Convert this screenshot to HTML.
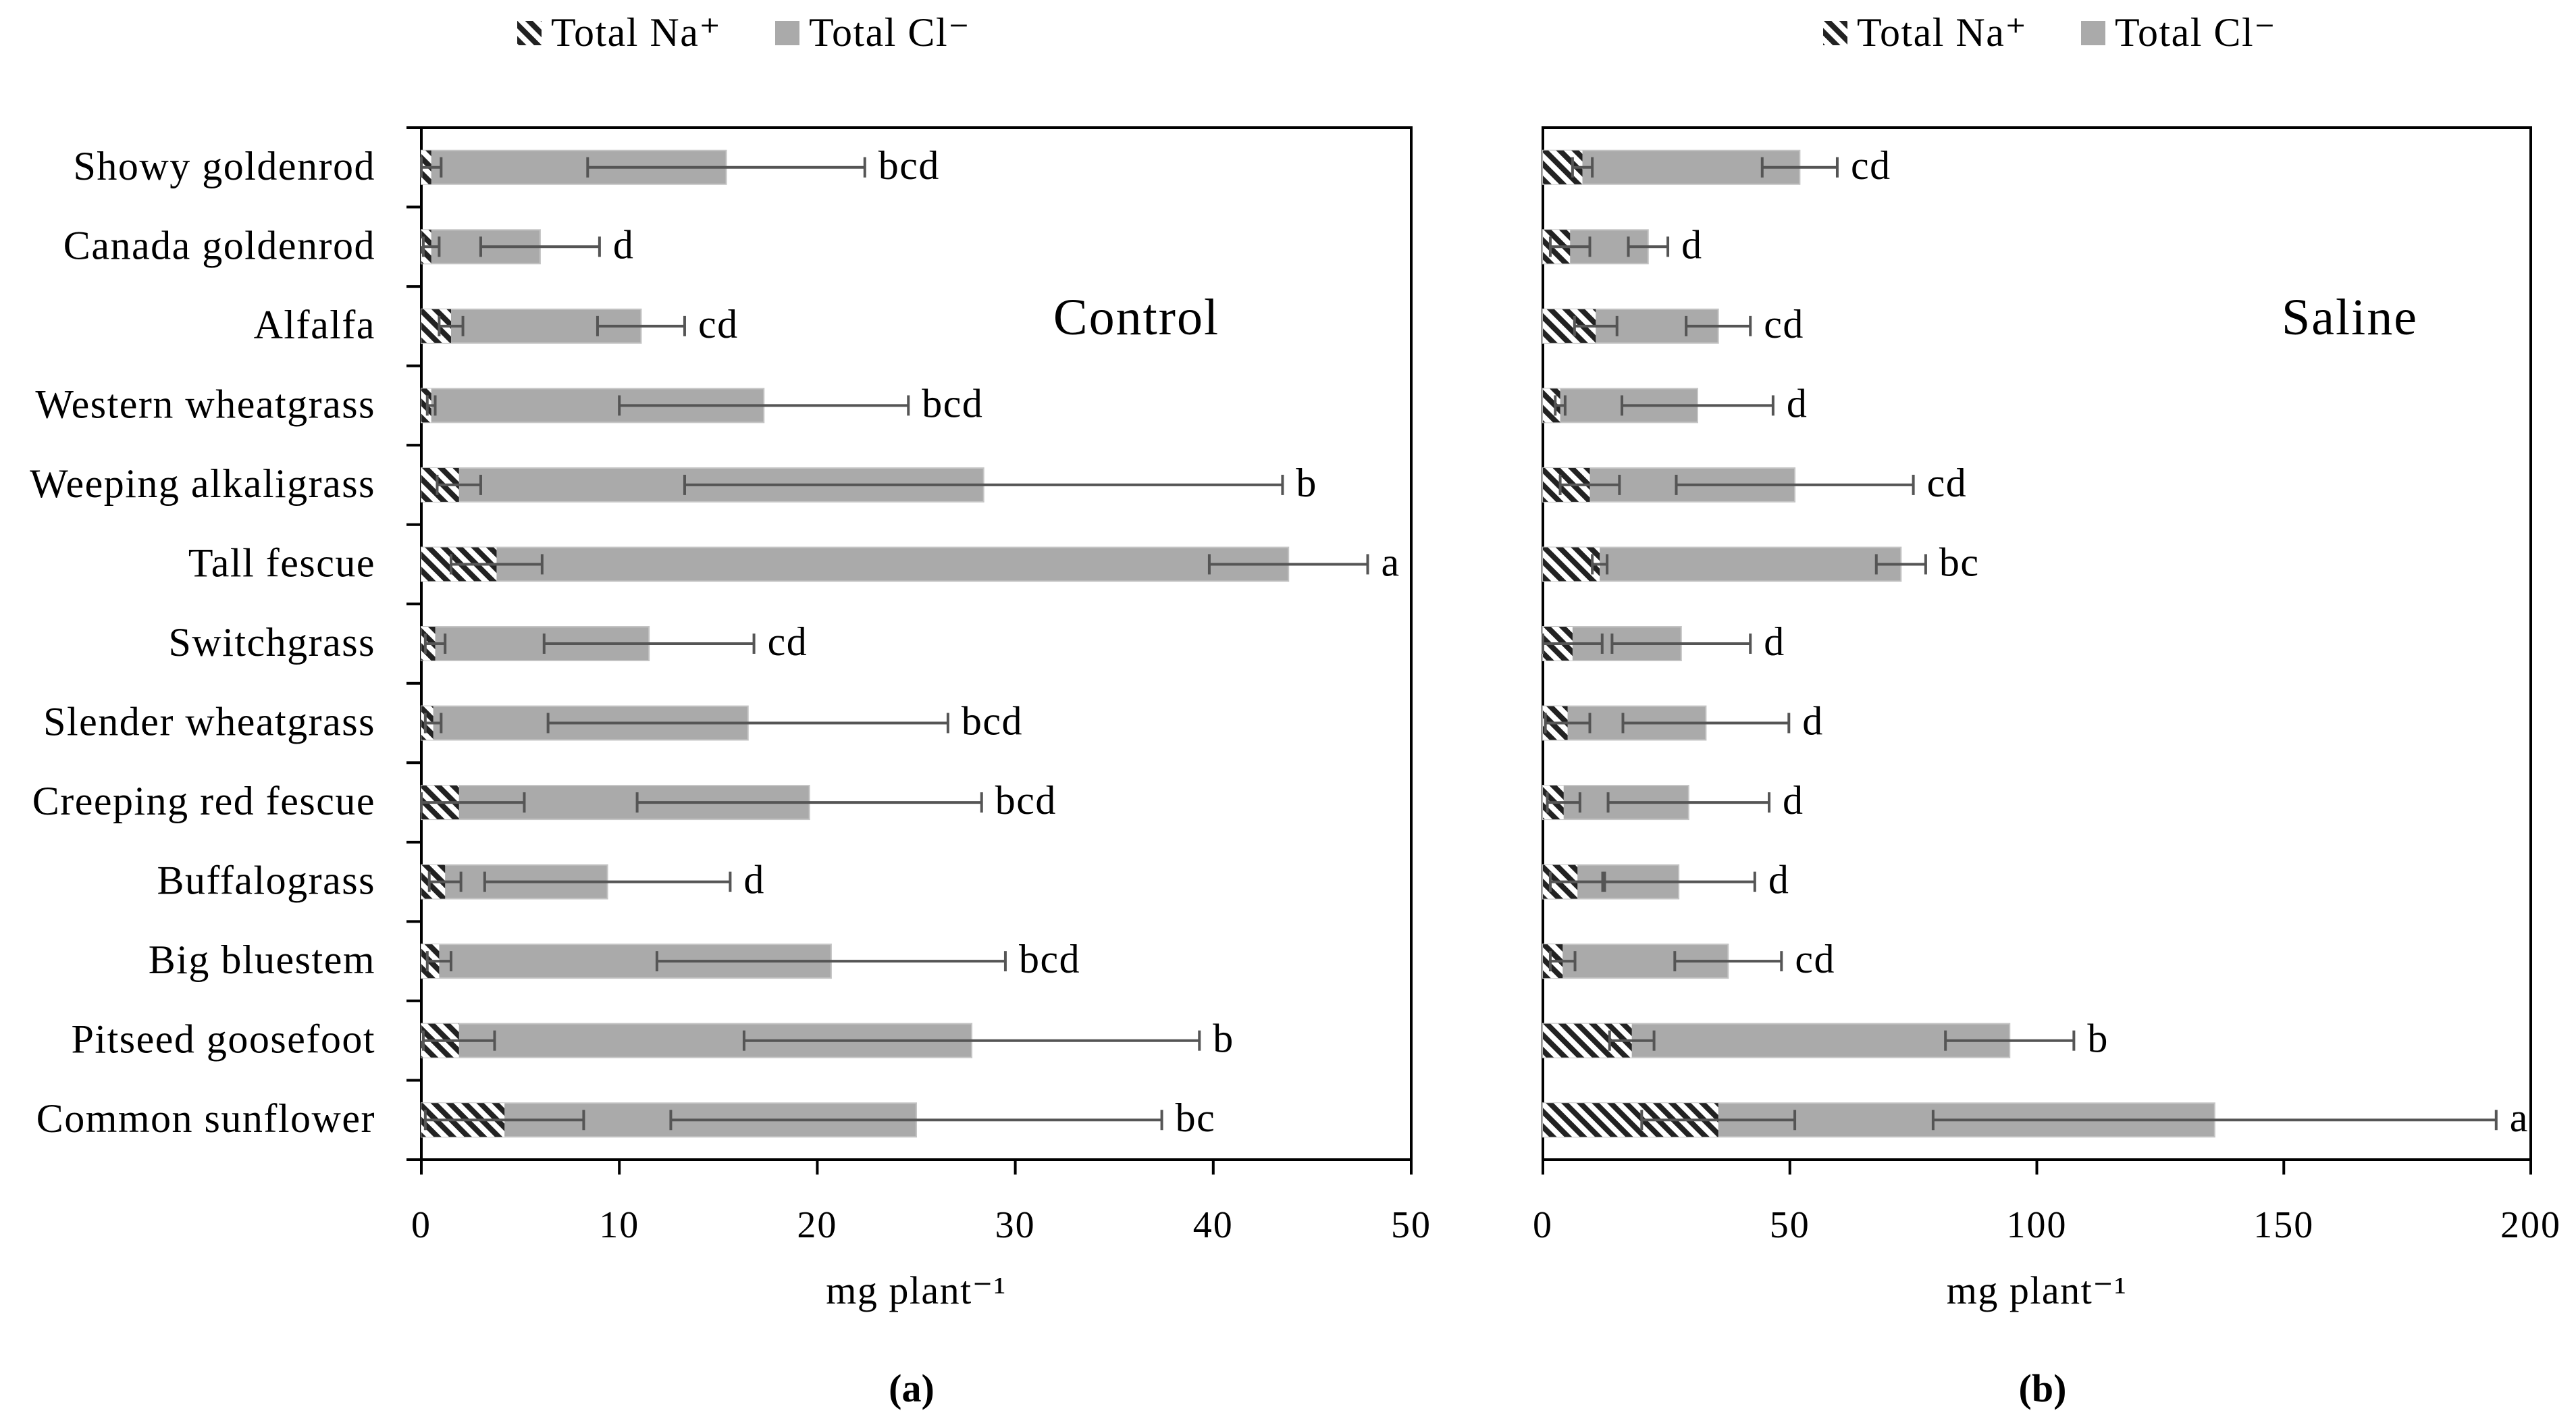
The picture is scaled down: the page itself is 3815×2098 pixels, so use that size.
<!DOCTYPE html>
<html><head><meta charset="utf-8"><style>
html,body{margin:0;padding:0;background:#fff;}
svg{display:block;font-family:"Liberation Serif",serif;}
</style></head><body>
<svg id="chart" width="3815" height="2098" viewBox="0 0 3815 2098" xmlns="http://www.w3.org/2000/svg">
<defs>
<pattern id="hatch" patternUnits="userSpaceOnUse" width="16" height="16" patternTransform="rotate(-45)">
<rect width="16" height="16" fill="#fff"/>
<rect width="8" height="16" fill="#222"/>
</pattern>
</defs>
</svg>
<script>
const categories = ["Showy goldenrod","Canada goldenrod","Alfalfa","Western wheatgrass","Weeping alkaligrass","Tall fescue","Switchgrass","Slender wheatgrass","Creeping red fescue","Buffalograss","Big bluestem","Pitseed goosefoot","Common sunflower"];
const controlNa = [0.5,0.5,1.5,0.5,1.9,3.8,0.7,0.6,1.9,1.2,0.9,1.9,4.2];
const controlNaErr = [0.5,0.4,0.6,0.2,1.1,2.3,0.5,0.4,3.3,0.8,0.6,1.8,4.0];
const controlCl = [15.4,6.0,11.1,17.3,28.4,43.8,11.5,16.5,19.6,9.4,20.7,27.8,25.0];
const controlClErr = [7.0,3.0,2.2,7.3,15.1,4.0,5.3,10.1,8.7,6.2,8.8,11.5,12.4];
const controlLetters = ["bcd","d","cd","bcd","b","a","cd","bcd","bcd","d","bcd","b","bc"];
const salineNa = [8,5.5,10.7,3.5,9.5,11.5,6,5,4.2,7,4,18,35.5];
const salineNaErr = [2,4,4.3,1,6,1.5,6,4.5,3.3,5.5,2.5,4.5,15.5];
const salineCl = [52,21.3,35.5,31.3,51,72.5,28,33,29.5,27.5,37.5,94.5,136];
const salineClErr = [7.6,4,6.5,15.3,24,5,14,16.8,16.3,15.4,10.8,13,57];
const salineLetters = ["cd","d","cd","d","cd","bc","d","d","d","d","cd","b","a"];
const controlTicks = [0,10,20,30,40,50];
const salineTicks = [0,50,100,150,200];

const svg = document.getElementById('chart');
const NS = 'http://www.w3.org/2000/svg';
function mk(tag, attrs, parent){
  const e = document.createElementNS(NS, tag);
  for (const k in attrs) e.setAttribute(k, attrs[k]);
  (parent||svg).appendChild(e);
  return e;
}
const plotTop = 189, plotBottom = 1717;
const band = (plotBottom-plotTop)/categories.length;
const yC = i => plotTop + (i+0.5)*band;
const barH = 50, capH = 30;

function panel(name, x0, x1, max, ticks, na, naErr, cl, clErr, letters, title, titleX, showLabels){
  const g = mk('g', {});
  
  
  const xs = v => x0 + (v/max)*(x1-x0);
  const box = mk('rect', {x:x0, y:plotTop, width:x1-x0, height:plotBottom-plotTop, fill:'none', stroke:'#000', 'stroke-width':4}, g);
  
  
  ticks.forEach(t=>{
    const x = xs(t);
    const tl = mk('line', {x1:x, x2:x, y1:plotBottom, y2:plotBottom+22, stroke:'#000','stroke-width':4}, g);
    
    
    const tx = mk('text', {x:x, y:1832, 'text-anchor':'middle', 'font-size':56, 'letter-spacing':2, fill:'#000'}, g);
    tx.textContent = t;
    
    
  });
  if (showLabels){
    for (let i=0;i<=categories.length;i++){
      const y = plotTop + i*band;
      const yt = mk('line', {x1:x0-22, x2:x0, y1:y, y2:y, stroke:'#000','stroke-width':4}, g);
      
      
    }
  }
  categories.forEach((c,i)=>{
    const y = yC(i);
    if (showLabels){
      const lb = mk('text', {x:x0-68, y:y+18, 'text-anchor':'end', 'font-size':60, 'letter-spacing':1.5, fill:'#000'}, g);
      lb.textContent = c;
      
      
    }
    const clb = mk('rect', {x:x0, y:y-barH/2, width:xs(cl[i])-x0, height:barH, fill:'#aaaaaa', stroke:'#c4c4c4','stroke-width':2}, g);
    
    
    const nab = mk('rect', {x:x0, y:y-barH/2, width:xs(na[i])-x0, height:barH, fill:'url(#hatch)'}, g);
    
    
    const errs = [[na[i], naErr[i]], [cl[i], clErr[i]]];
    errs.forEach(([v,e],k)=>{
      const a = xs(Math.max(0,v-e)), b = xs(v+e);
      const eg = mk('g', {stroke:'#555','stroke-width':4}, g);
      
      
      mk('line', {x1:a, x2:b, y1:y, y2:y}, eg);
      mk('line', {x1:a, x2:a, y1:y-capH/2, y2:y+capH/2}, eg);
      mk('line', {x1:b, x2:b, y1:y-capH/2, y2:y+capH/2}, eg);
    });
    const lt = mk('text', {x:xs(cl[i]+clErr[i])+20, y:y+17, 'font-size':60, 'letter-spacing':1.5, fill:'#000'}, g);
    lt.textContent = letters[i];
    
    
  });
  const tt = mk('text', {x:titleX, y:495, 'text-anchor':'middle', 'font-size':76, 'letter-spacing':2, fill:'#000'}, g);
  tt.textContent = title;
  
  
  const ax = mk('text', {x:(x0+x1)/2, y:1930, 'text-anchor':'middle', 'font-size':58, 'letter-spacing':1.5, fill:'#000'}, g);
  ax.textContent = 'mg plant⁻¹';
  
  
}

panel('control', 624, 2090, 50, controlTicks, controlNa, controlNaErr, controlCl, controlClErr, controlLetters, 'Control', 1683, true);
panel('saline', 2285, 3748, 200, salineTicks, salineNa, salineNaErr, salineCl, salineClErr, salineLetters, 'Saline', 3480, false);

function legend(name, x){
  const g = mk('g', {});
  
  
  const s1 = mk('rect', {x:x, y:31, width:36, height:36, fill:'url(#hatch)'}, g);
  
  
  const t1 = mk('text', {x:x+50, y:68, 'font-size':60, 'letter-spacing':1.5, fill:'#000'}, g);
  t1.textContent = 'Total Na⁺';
  
  
  const s2 = mk('rect', {x:x+382, y:31, width:36, height:36, fill:'#aaaaaa'}, g);
  
  
  const t2 = mk('text', {x:x+432, y:68, 'font-size':60, 'letter-spacing':1.5, fill:'#000'}, g);
  t2.textContent = 'Total Cl⁻';
  
  
}
legend('control', 766);
legend('saline', 2700);

const pa = mk('text', {x:1350, y:2075, 'text-anchor':'middle', 'font-size':58, 'font-weight':'bold', fill:'#000'});
pa.textContent = '(a)';


const pb = mk('text', {x:3025, y:2075, 'text-anchor':'middle', 'font-size':58, 'font-weight':'bold', fill:'#000'});
pb.textContent = '(b)';


</script>
</body></html>
